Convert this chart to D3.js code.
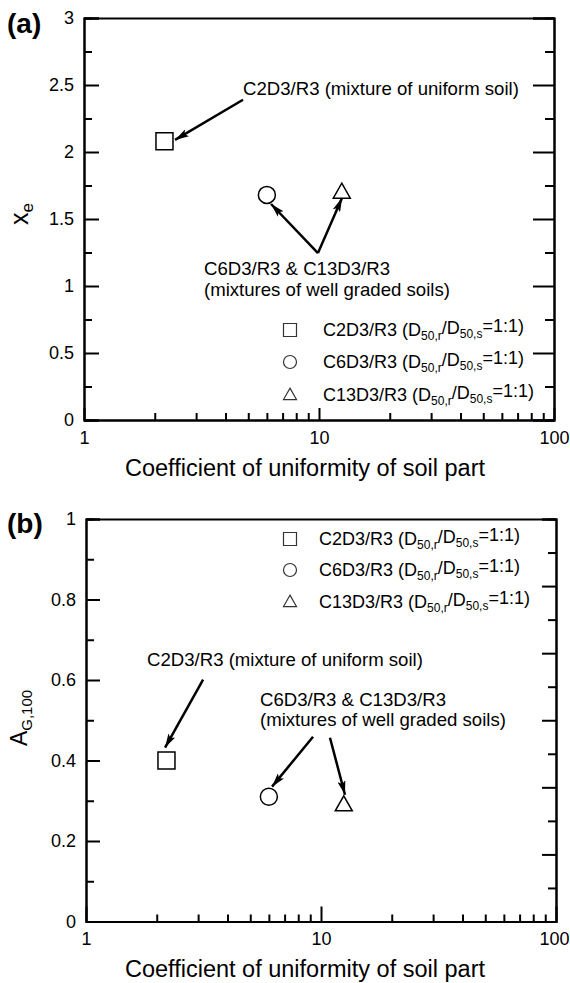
<!DOCTYPE html>
<html>
<head>
<meta charset="utf-8">
<script src="https://cdn.jsdelivr.net/npm/d3@7/dist/d3.min.js"></script>
<style>
  html, body { margin: 0; padding: 0; background: #fff; }
  svg text { font-family: "Liberation Sans", Arial, Helvetica, sans-serif; fill: #000; }
</style>
</head>
<body>
<script>
// ---------------- data ----------------
const seriesNames = ["C2D3/R3", "C6D3/R3", "C13D3/R3"];
const seriesSymbols = ["square", "circle", "triangle"];
const cuValues = [2.2, 6.0, 12.5];           // coefficient of uniformity of soil part
const xeValues = [2.08, 1.68, 1.70];         // panel (a)
const agValues = [0.40, 0.31, 0.29];         // panel (b)

const xTickMajor = [1, 10, 100];
const xTickMinor = [2, 3, 4, 5, 6, 7, 8, 9, 20, 30, 40, 50, 60, 70, 80, 90];
const yTicksA = [0, 0.5, 1, 1.5, 2, 2.5, 3];
const yTickLabelsA = ["0", "0.5", "1", "1.5", "2", "2.5", "3"];
const yMinorA = [0.25, 0.75, 1.25, 1.75, 2.25, 2.75];
const yTicksB = [0, 0.2, 0.4, 0.6, 0.8, 1];
const yTickLabelsB = ["0", "0.2", "0.4", "0.6", "0.8", "1"];
const yMinorB = [0.1, 0.3, 0.5, 0.7, 0.9];
const rightTicksB = [0,1,2,3,4,5,6,7,8,9,10,11,12];

// annotation texts (positions in data units)
const annoA = [
  { lines: ["C2D3/R3 (mixture of uniform soil)"], x: 4.75, y: 2.425 },
  { lines: ["C6D3/R3 & C13D3/R3", "(mixtures of well graded soils)"], x: 3.24, y: 1.08 }
];
const arrowsA = [
  { x1: 4.75, y1: 2.39, x2: 2.44, y2: 2.09 },
  { x1: 9.9, y1: 1.246, x2: 6.25, y2: 1.612 },
  { x1: 9.9, y1: 1.246, x2: 12.53, y2: 1.657 }
];
const annoB = [
  { lines: ["C2D3/R3 (mixture of uniform soil)"], x: 1.818, y: 0.636 },
  { lines: ["C6D3/R3 & C13D3/R3", "(mixtures of well graded soils)"], x: 5.5, y: 0.536 }
];
const arrowsB = [
  { x1: 3.15, y1: 0.601, x2: 2.17, y2: 0.432 },
  { x1: 9.25, y1: 0.459, x2: 6.19, y2: 0.335 },
  { x1: 10.92, y1: 0.4565, x2: 12.65, y2: 0.315 }
];

// ---------------- drawing ----------------
const W = 570, H = 983;
const svg = d3.select("body").append("svg").attr("width", W).attr("height", H);

const defs = svg.append("defs");
defs.append("marker")
  .attr("id", "ah").attr("viewBox", "0 0 14 8")
  .attr("refX", 14).attr("refY", 4)
  .attr("markerWidth", 14).attr("markerHeight", 8)
  .attr("markerUnits", "userSpaceOnUse")
  .attr("orient", "auto")
  .append("path").attr("d", "M0,0 L14,4 L0,8 L3,4 Z").attr("fill", "#000");

function symbolPath(type, s) {
  if (type === "square") return `M${-s/2},${-s/2}h${s}v${s}h${-s}Z`;
  if (type === "circle") { const r = s/2; return `M${r},0A${r},${r} 0 1,1 ${-r},0A${r},${r} 0 1,1 ${r},0Z`; }
  const h = s * 0.88;
  return `M0,${-h*0.6}L${s/2},${h*0.4}L${-s/2},${h*0.4}Z`;
}

function styleAxis(g) {
  g.selectAll("path.domain").attr("stroke", "#000").attr("stroke-width", 2);
  g.selectAll(".tick line").attr("stroke", "#000").attr("stroke-width", 2);
  g.selectAll(".tick text").attr("font-size", 18).attr("font-family", '"Liberation Sans", Arial, sans-serif');
}

function panel(cfg) {
  const x = d3.scaleLog().domain([1, 100]).range([cfg.left, cfg.right]);
  const y = d3.scaleLinear().domain(cfg.yDomain).range([cfg.bottom, cfg.top]);
  const g = svg.append("g");

  // left axis major
  g.append("g").attr("transform", `translate(${cfg.left},0)`)
    .call(d3.axisLeft(y).tickValues(cfg.yTicks).tickFormat((d, i) => cfg.yLabels[i]).tickSize(-cfg.leftMajor).tickPadding(10))
    .call(styleAxis);
  // left minor
  g.append("g").attr("transform", `translate(${cfg.left},0)`)
    .call(d3.axisLeft(y).tickValues(cfg.yMinor).tickFormat("").tickSize(-8))
    .call(styleAxis);

  // right axis
  const yr = cfg.rightScale ? d3.scaleLinear().domain(cfg.rightScale).range([cfg.bottom, cfg.top]) : y;
  g.append("g").attr("transform", `translate(${cfg.right},0)`)
    .call(d3.axisRight(yr).tickValues(cfg.rightMajor).tickFormat("").tickSize(-cfg.rightMajorLen))
    .call(styleAxis);
  g.append("g").attr("transform", `translate(${cfg.right},0)`)
    .call(d3.axisRight(yr).tickValues(cfg.rightMinor).tickFormat("").tickSize(-cfg.rightMinorLen))
    .call(styleAxis);

  // top axis (frame only)
  g.append("g").attr("transform", `translate(0,${cfg.top})`)
    .call(d3.axisTop(x).tickValues([]).tickSizeOuter(0))
    .call(styleAxis);

  // bottom axis
  const bx = g.append("g").attr("transform", `translate(0,${cfg.bottom})`)
    .call(d3.axisBottom(x).tickValues(xTickMajor).tickFormat(d3.format("d")).tickSize(-cfg.xMajorLen).tickSizeOuter(0).tickPadding(11))
    .call(styleAxis);
  // keep the last label ("100") inside the picture, right-aligned at the edge
  bx.selectAll(".tick text").filter(d => d === 100)
    .attr("text-anchor", "end").attr("x", W - 1 - cfg.right);
  g.append("g").attr("transform", `translate(0,${cfg.bottom})`)
    .call(d3.axisBottom(x).tickValues(xTickMinor).tickFormat("").tickSize(-7).tickSizeOuter(0))
    .call(styleAxis);

  // x title
  g.append("text").attr("x", 305).attr("y", cfg.xTitleY).attr("text-anchor", "middle")
    .attr("font-size", 23.5).text("Coefficient of uniformity of soil part");

  // y title
  const yt = g.append("text").attr("transform", `translate(${cfg.yTitleX},${cfg.yTitleY}) rotate(-90)`)
    .attr("text-anchor", "middle").attr("font-size", cfg.yTitleSize);
  yt.append("tspan").text(cfg.yTitleMain);
  yt.append("tspan").attr("font-size", cfg.yTitleSubSize).attr("dy", "0.3em").text(cfg.yTitleSub);

  // panel label
  g.append("text").attr("x", 7).attr("y", cfg.labelY).attr("font-size", 28).attr("font-weight", "bold").text(cfg.label);

  // arrows
  g.selectAll("line.arrow").data(cfg.arrows).enter().append("line")
    .attr("x1", d => x(d.x1)).attr("y1", d => y(d.y1))
    .attr("x2", d => x(d.x2)).attr("y2", d => y(d.y2))
    .attr("stroke", "#000").attr("stroke-width", 2.5).attr("marker-end", "url(#ah)");

  // annotation texts
  cfg.anno.forEach(a => {
    const t = g.append("text").attr("x", x(a.x)).attr("y", y(a.y)).attr("font-size", 18.6);
    a.lines.forEach((ln, i) => t.append("tspan").attr("x", x(a.x)).attr("dy", i === 0 ? 0 : "1.1em").text(ln));
  });

  // data points
  cuValues.forEach((c, i) => {
    g.append("path").attr("d", symbolPath(seriesSymbols[i], 17))
      .attr("transform", `translate(${x(c)},${y(cfg.values[i])})`)
      .attr("fill", "#fff").attr("stroke", "#000").attr("stroke-width", 1.5);
  });

  // legend
  seriesNames.forEach((nm, i) => {
    const cy = cfg.legendY[i];
    g.append("path").attr("d", symbolPath(seriesSymbols[i], 13))
      .attr("transform", `translate(290,${cy})`)
      .attr("fill", "#fff").attr("stroke", "#333").attr("stroke-width", 1.2);
    const t = g.append("text").attr("x", cfg.legendTextX).attr("y", cy + 6).attr("font-size", 18);
    t.append("tspan").text(nm + " (D");
    t.append("tspan").attr("font-size", 12).attr("dy", "0.3em").text("50,r");
    t.append("tspan").attr("dy", "-0.3em").text("/D");
    t.append("tspan").attr("font-size", 12).attr("dy", "0.3em").text("50,s");
    t.append("tspan").attr("dy", "-0.3em").text("=1:1)");
  });
}

panel({
  left: 84, right: 554, top: 18, bottom: 420,
  yDomain: [0, 3], yTicks: yTicksA, yLabels: yTickLabelsA, yMinor: yMinorA,
  leftMajor: 15,
  rightMajor: yTicksA, rightMinor: yMinorA, rightMajorLen: 21, rightMinorLen: 9,
  xMajorLen: 12, xTitleY: 476,
  yTitleX: 28, yTitleY: 214, yTitleMain: "x", yTitleSub: "e", yTitleSize: 25, yTitleSubSize: 17,
  label: "(a)", labelY: 33,
  values: xeValues, anno: annoA, arrows: arrowsA,
  legendY: [330, 362, 395], legendTextX: 323
});

panel({
  left: 86, right: 556, top: 519, bottom: 921.5,
  yDomain: [0, 1], yTicks: yTicksB, yLabels: yTickLabelsB, yMinor: yMinorB,
  leftMajor: 14,
  rightScale: [0, 12],
  rightMajor: rightTicksB.filter(d => d % 2 === 0), rightMinor: rightTicksB.filter(d => d % 2 === 1),
  rightMajorLen: 14, rightMinorLen: 8,
  xMajorLen: 15, xTitleY: 977,
  yTitleX: 27, yTitleY: 718, yTitleMain: "A", yTitleSub: "G,100", yTitleSize: 23, yTitleSubSize: 15,
  label: "(b)", labelY: 533,
  values: agValues, anno: annoB, arrows: arrowsB,
  legendY: [539, 570, 602], legendTextX: 319
});
</script>
</body>
</html>
